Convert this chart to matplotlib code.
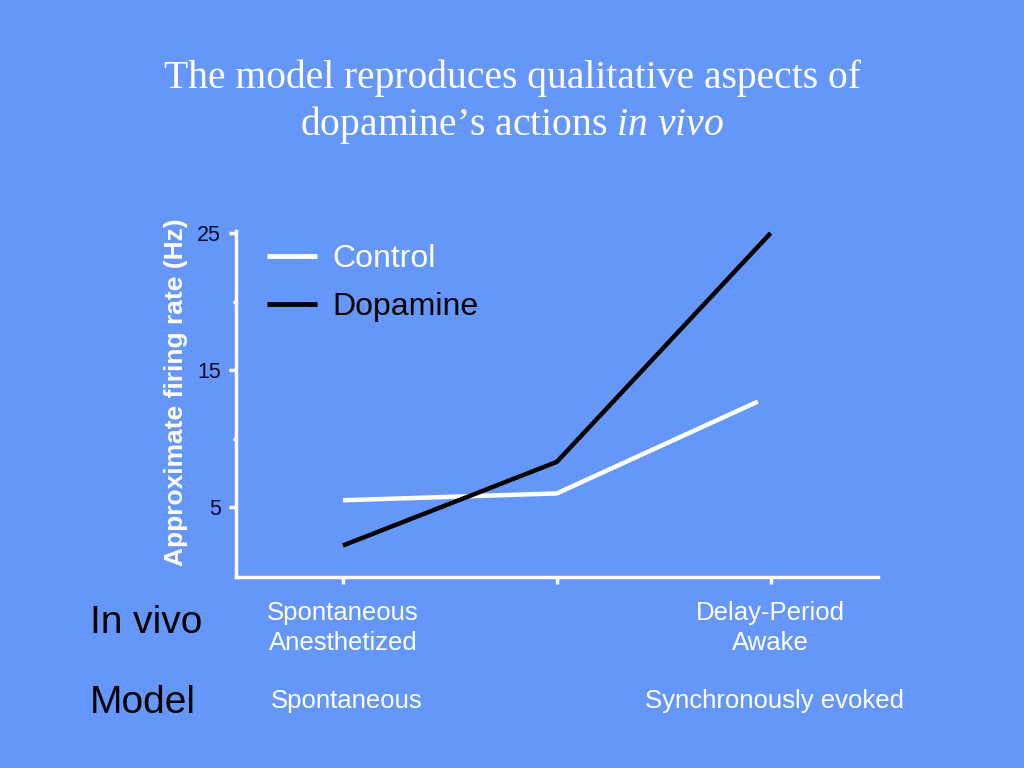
import matplotlib
matplotlib.use("Agg")
import matplotlib.pyplot as plt
from matplotlib.ticker import FixedLocator

plt.rcParams["mathtext.fontset"] = "custom"
plt.rcParams["mathtext.rm"] = "Liberation Serif"
plt.rcParams["mathtext.it"] = "Liberation Serif:italic"

# Data
conditions = ["Spontaneous\nAnesthetized", "", "Delay-Period\nAwake"]
model_labels = ["Spontaneous", "Synchronously evoked"]
control_x = [0, 1, 1.94]
control_y = [5.5, 6.0, 12.7]
dopamine_x = [0, 1, 2]
dopamine_y = [2.2, 8.3, 25.0]
y_major = [5, 15, 25]
y_minor = [10, 20]

BG = "#6597FB"
DARK = "#08082a"

fig = plt.figure(figsize=(10.24, 7.68), dpi=100, facecolor=BG)
ax = fig.add_axes([0.2305, 0.2487, 0.6265, 0.4505])
ax.set_facecolor(BG)

ax.plot(control_x, control_y, color="white", lw=3.2, label="Control", solid_capstyle="butt")
ax.plot(dopamine_x, dopamine_y, color="black", lw=3.2, label="Dopamine", solid_capstyle="butt")

ax.set_xlim(-0.5, 2.5)
ax.set_ylim(-0.1, 25.15)

for s in ["top", "right"]:
    ax.spines[s].set_visible(False)
for s in ["left", "bottom"]:
    ax.spines[s].set_color("white")
    ax.spines[s].set_linewidth(2.5)

ax.yaxis.set_major_locator(FixedLocator(y_major))
ax.yaxis.set_minor_locator(FixedLocator(y_minor))
ax.tick_params(axis="y", which="major", colors="white", length=5, width=2.5,
               labelcolor=DARK, labelsize=15.5, pad=6)
ax.tick_params(axis="y", which="minor", colors="white", length=2, width=2.5)
for t in ax.get_yticklabels():
    t.set_family("Liberation Sans")

ax.set_xticks(dopamine_x)
ax.set_xticklabels(conditions)
ax.tick_params(axis="x", colors="white", length=5, width=2.5,
               labelcolor="white", labelsize=18.5, pad=12)
for t in ax.get_xticklabels():
    t.set_family("Liberation Sans")
    t.set_linespacing(1.35)

ax.set_ylabel("Approximate firing rate (Hz)", color="white", fontsize=19,
              fontweight="bold", family="Liberation Sans")
ax.yaxis.set_label_coords(-0.075, 0.535)

leg = ax.legend(loc="upper left", bbox_to_anchor=(0.004, 1.045), frameon=False,
                prop={"family": "Liberation Sans", "size": 23},
                handlelength=1.55, handletextpad=0.5, labelspacing=0.55)
for txt, c in zip(leg.get_texts(), ["white", "black"]):
    txt.set_color(c)
for ln in leg.get_lines():
    ln.set_linewidth(3.5)

# Title
fig.text(0.5, 0.885, "The model reproduces qualitative aspects of",
         ha="center", va="baseline", color="white", fontsize=28.5, family="Liberation Serif")
fig.text(0.5, 0.824, "dopamine\u2019s actions $\\mathit{in\\ vivo}$",
         ha="center", va="baseline", color="white", fontsize=28.5, family="Liberation Serif")

# Row labels
fig.text(0.088, 0.176, "In vivo", ha="left", va="baseline", color="black",
         fontsize=28, family="Liberation Sans")
fig.text(0.088, 0.0716, "Model", ha="left", va="baseline", color="black",
         fontsize=28, family="Liberation Sans")
for xv, lab in zip([0, 2], model_labels):
    disp = ax.transData.transform((xv, 0))
    fx = fig.transFigure.inverted().transform(disp)[0]
    fig.text(fx + 0.004, 0.0786, lab, ha="center", va="baseline", color="white",
             fontsize=18.5, family="Liberation Sans")

fig.savefig("out.png", dpi=100, facecolor=BG)
